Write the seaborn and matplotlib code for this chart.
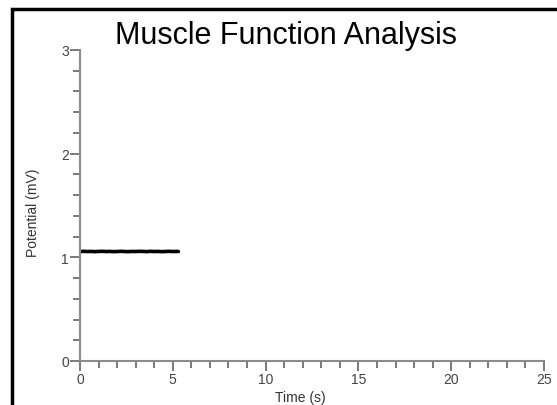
import matplotlib
matplotlib.use("Agg")
import matplotlib.pyplot as plt
import matplotlib.patches as mpatches
from matplotlib.ticker import MultipleLocator
import seaborn as sns
import pandas as pd

sns.set_theme(style="white")
plt.rcParams['font.family'] = ['Liberation Sans', 'DejaVu Sans']

title = "Muscle Function Analysis"
x_label = "Time (s)"
y_label = "Potential (mV)"
time_s = [0.0, 0.2, 0.4, 0.6, 0.8, 1.0, 1.2, 1.4, 1.6, 1.8, 2.0, 2.2, 2.4, 2.6,
          2.8, 3.0, 3.2, 3.4, 3.6, 3.8, 4.0, 4.2, 4.4, 4.6, 4.8, 5.0, 5.2, 5.3]
potential_mv = [1.056, 1.058, 1.056, 1.057, 1.055, 1.057, 1.058, 1.056, 1.057, 1.055,
                1.056, 1.058, 1.056, 1.055, 1.057, 1.056, 1.058, 1.057, 1.055, 1.058,
                1.056, 1.057, 1.055, 1.056, 1.058, 1.056, 1.057, 1.056]

df = pd.DataFrame({"t": time_s, "v": potential_mv})

W, H = 557, 406
fig = plt.figure(figsize=(W / 100, H / 100), dpi=100)
ax = fig.add_axes([80 / W, 44 / H, (544 - 80) / W, (362 - 51) / H])

sns.lineplot(data=df, x="t", y="v", ax=ax, color="black", linewidth=2.6)

ax.set_xlim(0, 25)
ax.set_ylim(0, 3)
ax.xaxis.set_major_locator(MultipleLocator(5))
ax.xaxis.set_minor_locator(MultipleLocator(1))
ax.yaxis.set_major_locator(MultipleLocator(1))
ax.yaxis.set_minor_locator(MultipleLocator(0.2))

gray = "#8c8c8c"
for s in ["top", "right"]:
    ax.spines[s].set_visible(False)
for s in ["left", "bottom"]:
    ax.spines[s].set_visible(True)
    ax.spines[s].set_color(gray)
    ax.spines[s].set_linewidth(1.5)

ax.tick_params(axis="both", which="major", direction="out", length=7, width=1.1,
               color="#555555", labelsize=10, labelcolor="#444444", pad=1,
               left=True, bottom=True)
ax.tick_params(axis="both", which="minor", direction="out", length=5, width=1.1,
               color="#555555", left=True, bottom=True)

ax.set_xlabel(x_label, fontsize=10, color="#333333")
ax.set_ylabel(y_label, fontsize=10, color="#333333")
ax.xaxis.set_label_coords((300 - 80) / 464, (362 - 398) / 311)
ax.yaxis.set_label_coords((33 - 80) / 464, (362 - 213) / 311)
ax.xaxis.label.set_va("center")
ax.yaxis.label.set_va("center")
ax.grid(False)

fig.text(286 / W, 1 - 36 / H, title, ha="center", va="center", fontsize=22, color="black")

# outer frame (left and top visible, cropped at right/bottom)
frame = mpatches.Rectangle((12 / W, -0.05), 1.2, 1 - 10 / H + 0.05, transform=fig.transFigure,
                           fill=False, edgecolor="black", linewidth=2.5, clip_on=False)
fig.patches.append(frame)

fig.savefig("out.png", dpi=100)
